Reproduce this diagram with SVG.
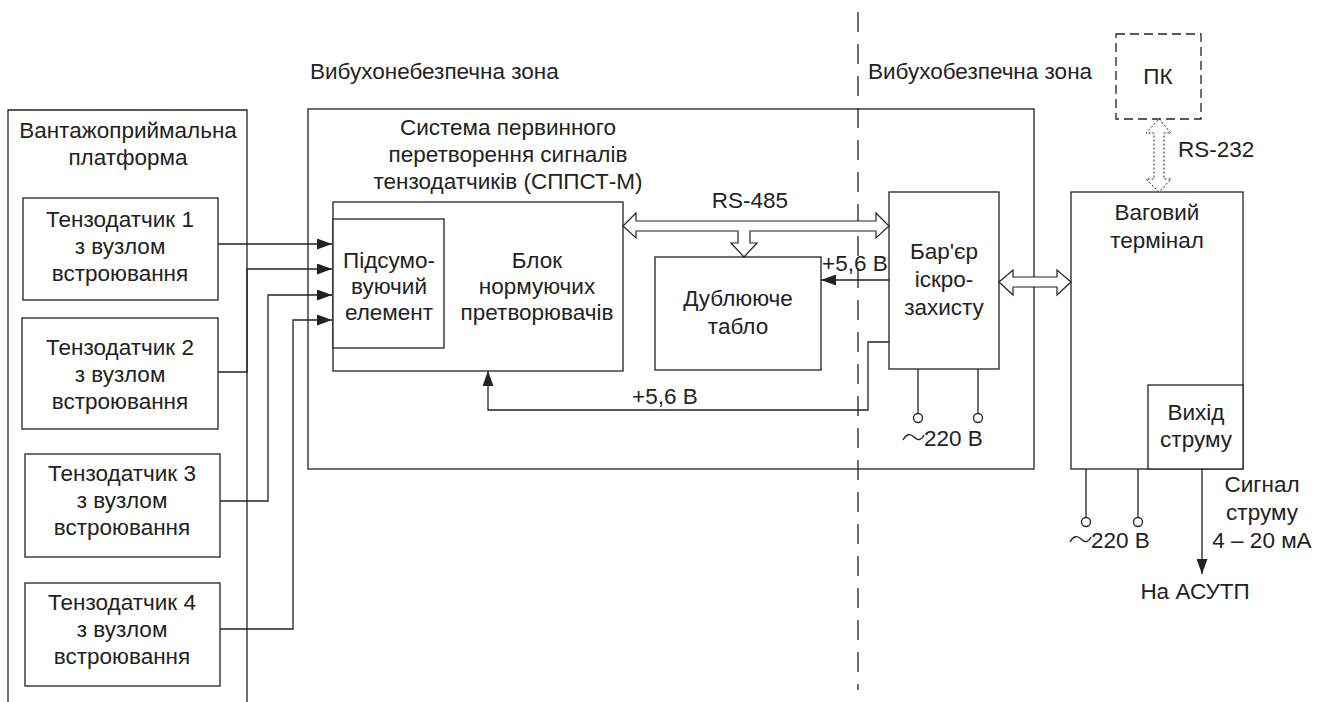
<svg xmlns="http://www.w3.org/2000/svg" width="1326" height="702" viewBox="0 0 1326 702">
<defs>
<style>
.b{fill:#fff;stroke:#222;stroke-width:1.3}
.n{fill:none;stroke:#222;stroke-width:1.3}
.w{fill:#fff;stroke:#222;stroke-width:1.2}
text{font-family:"Liberation Sans",Arial,sans-serif;font-size:22.5px;fill:#222}
.c{text-anchor:middle}
</style>
<marker id="ah" markerUnits="userSpaceOnUse" markerWidth="15" markerHeight="11" refX="15" refY="5.5" orient="auto">
<path d="M0,0 L15,5.5 L0,11 z" fill="#222"/>
</marker>
</defs>
<rect width="1326" height="702" fill="#fff"/>

<g id="zone-divider">
<line x1="858" y1="12" x2="858" y2="690" stroke="#222" stroke-width="1.3" stroke-dasharray="20 12"/>
</g>
<g id="zone-labels">
<text x="310" y="79">Вибухонебезпечна зона</text>
<text x="868" y="79">Вибухобезпечна зона</text>
</g>

<g id="platform">
<path class="n" d="M8,702 V110 H247 V702"/>
<text class="c" x="128" y="138">Вантажоприймальна</text>
<text class="c" x="128" y="165">платформа</text>
</g>

<g id="sensor1">
<rect class="b" x="23" y="198" width="195" height="102"/>
<text class="c" x="120" y="227">Тензодатчик 1</text>
<text class="c" x="120" y="254">з вузлом</text>
<text class="c" x="120" y="281">встроювання</text>
</g>
<g id="sensor2">
<rect class="b" x="22" y="318" width="196" height="111"/>
<text class="c" x="120" y="355">Тензодатчик 2</text>
<text class="c" x="120" y="382">з вузлом</text>
<text class="c" x="120" y="409">встроювання</text>
</g>
<g id="sensor3">
<rect class="b" x="25" y="454" width="195" height="103"/>
<text class="c" x="122" y="481">Тензодатчик 3</text>
<text class="c" x="122" y="508">з вузлом</text>
<text class="c" x="122" y="535">встроювання</text>
</g>
<g id="sensor4">
<rect class="b" x="25" y="583" width="195" height="103"/>
<text class="c" x="122" y="610">Тензодатчик 4</text>
<text class="c" x="122" y="637">з вузлом</text>
<text class="c" x="122" y="664">встроювання</text>
</g>

<g id="sppst">
<rect class="n" x="308" y="109" width="726" height="360"/>
<text class="c" x="508" y="135">Система первинного</text>
<text class="c" x="508" y="162">перетворення сигналів</text>
<text class="c" x="508" y="189">тензодатчиків (СППСТ-М)</text>
</g>

<g id="norm-block">
<rect class="b" x="333" y="202" width="290" height="169"/>
<text class="c" x="537" y="268">Блок</text>
<text class="c" x="537" y="294">нормуючих</text>
<text class="c" x="537" y="320">претворювачів</text>
</g>
<g id="summing">
<rect class="b" x="333" y="219" width="111" height="129"/>
<text class="c" x="389" y="268">Підсумо-</text>
<text class="c" x="389" y="294">вуючий</text>
<text class="c" x="389" y="320">елемент</text>
</g>

<g id="display">
<rect class="b" x="655" y="257" width="166" height="113"/>
<text class="c" x="738" y="306">Дублююче</text>
<text class="c" x="738" y="334">табло</text>
</g>

<g id="barrier">
<rect class="b" x="889" y="192" width="110" height="177"/>
<text class="c" x="944" y="259">Бар'єр</text>
<text class="c" x="944" y="287">іскро-</text>
<text class="c" x="944" y="315">захисту</text>
</g>

<g id="pc">
<rect x="1116" y="34" width="85" height="85" fill="#fff" stroke="#222" stroke-width="1.3" stroke-dasharray="9 5"/>
<text class="c" x="1158" y="84">ПК</text>
</g>

<g id="terminal">
<rect class="b" x="1071" y="192" width="172" height="277"/>
<text class="c" x="1157" y="220">Ваговий</text>
<text class="c" x="1157" y="248">термінал</text>
</g>
<g id="current-out">
<rect class="b" x="1148" y="385" width="95" height="84"/>
<text class="c" x="1196" y="420">Вихід</text>
<text class="c" x="1196" y="447">струму</text>
</g>

<g id="connectors">
<path class="n" d="M218,244 H332" marker-end="url(#ah)"/>
<path class="n" d="M218,372 H247 V269 H332" marker-end="url(#ah)"/>
<path class="n" d="M220,501 H268 V295 H332" marker-end="url(#ah)"/>
<path class="n" d="M220,629 H293 V320 H332" marker-end="url(#ah)"/>

<path class="w" d="M623,226 L636,213 L636,221 L876,221 L876,213 L889,226 L876,238 L876,231 L750,231 L750,243 L757,243 L744,257 L731,243 L738,243 L738,231 L636,231 L636,238 Z"/>
<text class="c" x="750" y="208">RS-485</text>

<path class="n" d="M889,280 H821" marker-end="url(#ah)"/>
<text x="822" y="271">+5,6 В</text>

<path class="n" d="M889,342 H868 V410 H488 V371" marker-end="url(#ah)"/>
<text x="632" y="404">+5,6 В</text>

<path class="w" d="M999,282 L1013,270 L1013,277 L1057,277 L1057,270 L1071,282 L1057,295 L1057,287 L1013,287 L1013,295 Z"/>

<path d="M1159,119 L1171,133 L1164,133 L1164,179 L1171,179 L1159,192 L1146,179 L1154,179 L1154,133 L1146,133 Z" fill="#fff" stroke="#222" stroke-width="1" stroke-dasharray="2 2"/>
<text x="1178" y="157">RS-232</text>

<path class="n" d="M918,369 V414 M978,369 V414"/>
<circle class="b" cx="918" cy="418" r="4.5"/>
<circle class="b" cx="978" cy="418" r="4.5"/>
<path class="n" d="M903,440 q5,-9 11,-3 q6,6 10,-2"/>
<text x="924" y="446">220 В</text>

<path class="n" d="M1086,469 V518 M1138,469 V518"/>
<circle class="b" cx="1086" cy="522" r="4.5"/>
<circle class="b" cx="1138" cy="522" r="4.5"/>
<path class="n" d="M1070,542 q5,-9 11,-3 q6,6 10,-2"/>
<text x="1091" y="548">220 В</text>

<path class="n" d="M1202,469 V574" marker-end="url(#ah)"/>
<text class="c" x="1195" y="599">На АСУТП</text>
<text class="c" x="1262" y="492">Сигнал</text>
<text class="c" x="1262" y="520">струму</text>
<text class="c" x="1262" y="548">4 – 20 мА</text>
</g>
</svg>
